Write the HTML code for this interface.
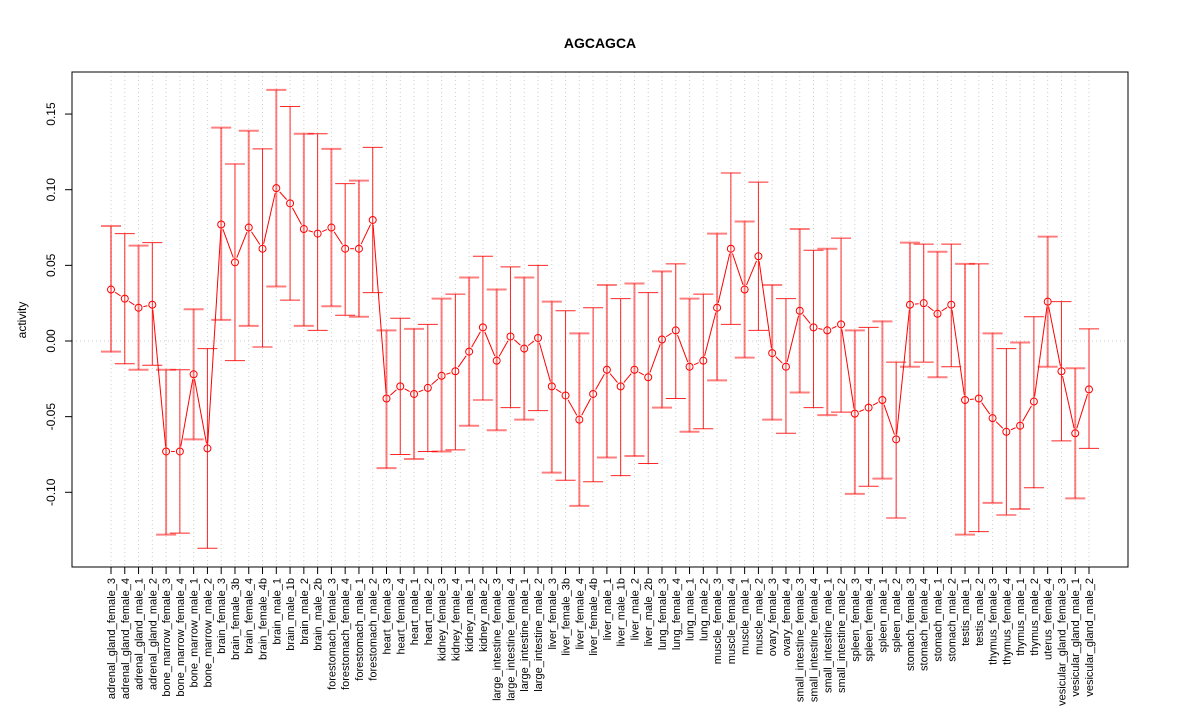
<!DOCTYPE html>
<html><head><meta charset="utf-8"><style>
body{margin:0;background:#fff;}
svg{display:block;font-family:"Liberation Sans",Arial,sans-serif;}
</style></head><body>
<svg id="chart" width="1200" height="720" xmlns="http://www.w3.org/2000/svg">
<text x="600" y="48" text-anchor="middle" font-size="14" font-weight="bold">AGCAGCA</text>
<text x="26" y="320" text-anchor="middle" font-size="12" transform="rotate(-90 26 320)">activity</text>
<g id="grid"></g><g id="marks"></g><g id="axes"></g>
<rect x="72" y="72" width="1056" height="495" fill="none" stroke="#000" stroke-width="1"/>
</svg>
<script>
const categories=["adrenal_gland_female_3","adrenal_gland_female_4","adrenal_gland_male_1","adrenal_gland_male_2","bone_marrow_female_3","bone_marrow_female_4","bone_marrow_male_1","bone_marrow_male_2","brain_female_3","brain_female_3b","brain_female_4","brain_female_4b","brain_male_1","brain_male_1b","brain_male_2","brain_male_2b","forestomach_female_3","forestomach_female_4","forestomach_male_1","forestomach_male_2","heart_female_3","heart_female_4","heart_male_1","heart_male_2","kidney_female_3","kidney_female_4","kidney_male_1","kidney_male_2","large_intestine_female_3","large_intestine_female_4","large_intestine_male_1","large_intestine_male_2","liver_female_3","liver_female_3b","liver_female_4","liver_female_4b","liver_male_1","liver_male_1b","liver_male_2","liver_male_2b","lung_female_3","lung_female_4","lung_male_1","lung_male_2","muscle_female_3","muscle_female_4","muscle_male_1","muscle_male_2","ovary_female_3","ovary_female_4","small_intestine_female_3","small_intestine_female_4","small_intestine_male_1","small_intestine_male_2","spleen_female_3","spleen_female_4","spleen_male_1","spleen_male_2","stomach_female_3","stomach_female_4","stomach_male_1","stomach_male_2","testis_male_1","testis_male_2","thymus_female_3","thymus_female_4","thymus_male_1","thymus_male_2","uterus_female_4","vesicular_gland_female_3","vesicular_gland_male_1","vesicular_gland_male_2"];
const values=[0.034,0.028,0.022,0.024,-0.073,-0.073,-0.022,-0.071,0.077,0.052,0.075,0.061,0.101,0.091,0.074,0.071,0.075,0.061,0.061,0.080,-0.038,-0.030,-0.035,-0.031,-0.023,-0.020,-0.007,0.009,-0.013,0.003,-0.005,0.002,-0.030,-0.036,-0.052,-0.035,-0.019,-0.030,-0.019,-0.024,0.001,0.007,-0.017,-0.013,0.022,0.061,0.034,0.056,-0.008,-0.017,0.020,0.009,0.007,0.011,-0.048,-0.044,-0.039,-0.065,0.024,0.025,0.018,0.024,-0.039,-0.038,-0.051,-0.060,-0.056,-0.040,0.026,-0.020,-0.061,-0.032];
const upper=[0.076,0.071,0.063,0.065,-0.019,-0.019,0.021,-0.005,0.141,0.117,0.139,0.127,0.166,0.155,0.137,0.137,0.127,0.104,0.106,0.128,0.007,0.015,0.008,0.011,0.028,0.031,0.042,0.056,0.034,0.049,0.042,0.050,0.026,0.020,0.005,0.022,0.037,0.028,0.038,0.032,0.046,0.051,0.028,0.031,0.071,0.111,0.079,0.105,0.037,0.028,0.074,0.060,0.061,0.068,0.007,0.009,0.013,-0.014,0.065,0.064,0.059,0.064,0.051,0.051,0.005,-0.005,-0.001,0.016,0.069,0.026,-0.018,0.008];
const lower=[-0.007,-0.015,-0.019,-0.016,-0.128,-0.127,-0.065,-0.137,0.014,-0.013,0.010,-0.004,0.036,0.027,0.010,0.007,0.023,0.017,0.016,0.032,-0.084,-0.075,-0.078,-0.073,-0.073,-0.072,-0.056,-0.039,-0.059,-0.044,-0.052,-0.046,-0.087,-0.092,-0.109,-0.093,-0.077,-0.089,-0.076,-0.081,-0.044,-0.038,-0.060,-0.058,-0.026,0.011,-0.011,0.007,-0.052,-0.061,-0.034,-0.044,-0.049,-0.047,-0.101,-0.096,-0.091,-0.117,-0.017,-0.014,-0.024,-0.017,-0.128,-0.126,-0.107,-0.115,-0.111,-0.097,-0.017,-0.066,-0.104,-0.071];
const yTicks=[-0.10,-0.05,0.00,0.05,0.10,0.15];
const yTickLabels=["-0.10","-0.05","0.00","0.05","0.10","0.15"];

const NS="http://www.w3.org/2000/svg";
const X0=111,X1=1089,Y0PIX=341,SCALE=1513;
function xs(i){return X0+(X1-X0)*i/(categories.length-1);}
function ys(v){return Y0PIX-v*SCALE;}
function mk(tag,attrs,parent){const e=document.createElementNS(NS,tag);for(const k in attrs)e.setAttribute(k,attrs[k]);parent.appendChild(e);return e;}
const grid=document.getElementById('grid'),marks=document.getElementById('marks'),axes=document.getElementById('axes');
const red="#ff0000";
categories.forEach((c,i)=>{
  const x=xs(i);
  const g=mk('line',{x1:x,x2:x,y1:72,y2:567,stroke:'#cccccc','stroke-dasharray':'1,3'},grid);
  
  
  const t=mk('line',{x1:x,x2:x,y1:567,y2:574,stroke:'#000'},axes);
  
  
  const lb=mk('text',{x:0,y:0,'font-size':'11','text-anchor':'end',transform:`translate(${x+4},578) rotate(-90)`},axes);
  lb.textContent=c;
  
  
});
const zl=mk('line',{x1:72,x2:1128,y1:ys(0),y2:ys(0),stroke:'#cccccc','stroke-dasharray':'1,3'},grid);


yTicks.forEach((v,i)=>{
  const y=ys(v);
  const t=mk('line',{x1:65,x2:72,y1:y,y2:y,stroke:'#000'},axes);
  
  
  const lb=mk('text',{x:0,y:0,'font-size':'12','text-anchor':'middle',transform:`translate(55,${y}) rotate(-90)`},axes);
  lb.textContent=yTickLabels[i];
  
  
});
// error bars
categories.forEach((c,i)=>{
  const x=xs(i),yt=ys(upper[i]),yb=ys(lower[i]);
  const op=(i%2===0)?0.5:0.85;
  const g=mk('g',{stroke:red,'stroke-opacity':op,'stroke-width':i%2===0?2:1},marks);
  
  
  mk('line',{x1:x,x2:x,y1:yt,y2:yb},g);
  mk('line',{x1:x-10,x2:x+10,y1:yt,y2:yt},g);
  mk('line',{x1:x-10,x2:x+10,y1:yb,y2:yb},g);
});
// connecting segments with gaps
for(let i=0;i<values.length-1;i++){
  const xa=xs(i),ya=ys(values[i]),xb=xs(i+1),yb=ys(values[i+1]);
  const dx=xb-xa,dy=yb-ya,L=Math.hypot(dx,dy),g=5;
  if(L<=2*g)continue;
  const s=mk('line',{x1:xa+dx*g/L,y1:ya+dy*g/L,x2:xb-dx*g/L,y2:yb-dy*g/L,stroke:red,'stroke-width':1},marks);
  
  
}
values.forEach((v,i)=>{
  const p=mk('circle',{cx:xs(i),cy:ys(v),r:3.5,fill:'none',stroke:red,'stroke-width':1},marks);
  
  
});
</script>
</body></html>
